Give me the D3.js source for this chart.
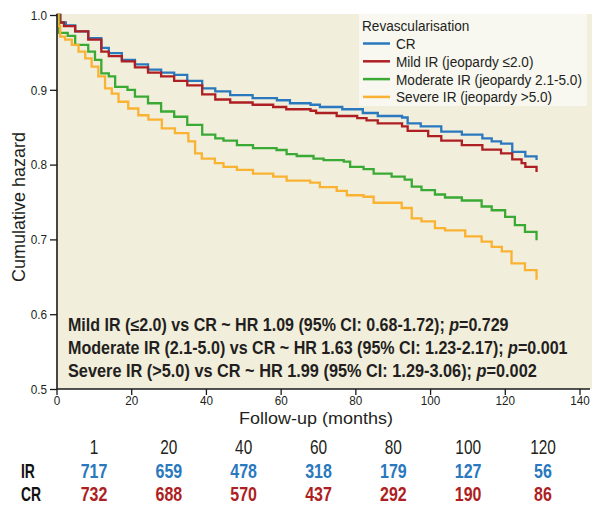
<!DOCTYPE html>
<html>
<head>
<meta charset="utf-8">
<script src="https://cdn.jsdelivr.net/npm/d3@7/dist/d3.min.js"></script>
<style>
  html, body { margin: 0; padding: 0; background: #ffffff; }
  svg { display: block; }
  text { font-family: "Liberation Sans", Arial, Helvetica, sans-serif; }
</style>
</head>
<body>
<svg id="chart" width="592" height="507"></svg>
<script>
// ---------- DATA ----------
const seriesNames = ["CR", "Mild IR (jeopardy \u22642.0)", "Moderate IR (jeopardy 2.1-5.0)", "Severe IR (jeopardy >5.0)"];
const seriesColors = ["#2a78bd", "#ad1f22", "#3aaa35", "#f9b232"];

// [months, cumulative value] step points
const crData = [[0,1],[1,0.99],[2.5,0.986],[5,0.978],[8.5,0.969],[12,0.956],[14,0.949],[17.5,0.940],[21,0.934],[24.5,0.927],[28,0.923],[31.5,0.920],[35,0.912],[39,0.902],[42.5,0.898],[46.5,0.893],[52.5,0.889],[59,0.886],[62.5,0.882],[68,0.880],[70.5,0.877],[76.5,0.874],[82,0.869],[86,0.865],[92.5,0.863],[94,0.855],[97.5,0.851],[103,0.844],[108.5,0.840],[114,0.835],[116.5,0.831],[119,0.828],[122,0.817],[125.5,0.811],[128.5,0.806]];
const mildData = [[0,1],[1,0.99],[2,0.985],[5,0.978],[8.5,0.967],[12,0.951],[14,0.945],[17.5,0.938],[21,0.930],[24.5,0.923],[28,0.918],[31.5,0.912],[35,0.906],[39,0.894],[42.5,0.887],[46.5,0.883],[52.5,0.880],[58,0.877],[61.5,0.874],[68,0.872],[69.5,0.869],[75,0.865],[80.5,0.862],[83,0.859],[86,0.855],[92.5,0.851],[94,0.845],[99.5,0.838],[103,0.832],[108.5,0.826],[114,0.820],[119,0.815],[122,0.807],[124.5,0.802],[125.5,0.797],[128.5,0.790]];
const moderateData = [[0,1],[0.7,0.976],[3,0.972],[5,0.960],[8.5,0.951],[10.3,0.940],[12,0.922],[14,0.918],[15.7,0.904],[19,0.900],[21,0.891],[24.5,0.882],[28,0.871],[31.5,0.864],[35,0.853],[39,0.840],[42.5,0.835],[44.7,0.832],[48.3,0.826],[52.6,0.822],[58.9,0.8195],[61.6,0.814],[64.3,0.8115],[68.8,0.808],[71.5,0.806],[76.9,0.804],[78.6,0.797],[82.2,0.794],[84.9,0.788],[89.7,0.784],[93.2,0.780],[95.1,0.7705],[97.7,0.766],[101.3,0.760],[104,0.756],[108.5,0.752],[113.8,0.744],[116.5,0.739],[120.1,0.730],[122.7,0.719],[125.4,0.710],[128.5,0.699]];
const severeData = [[0,1],[0.5,0.985],[1,0.971],[2.3,0.967],[4.1,0.960],[5.9,0.951],[7.7,0.942],[9.4,0.931],[11.2,0.918],[13,0.902],[14.8,0.895],[16.6,0.884],[19.2,0.875],[21.9,0.866],[24.6,0.860],[28.2,0.8485],[31.7,0.842],[35.3,0.831],[37.1,0.815],[38.9,0.808],[42.4,0.802],[44.7,0.797],[48.3,0.793],[52.6,0.788],[58,0.784],[61.6,0.7785],[67.9,0.776],[70.5,0.770],[75,0.765],[77.7,0.759],[82.2,0.757],[84.9,0.749],[92.4,0.742],[95.1,0.728],[97.7,0.724],[101.3,0.715],[104,0.712],[109.4,0.704],[113.8,0.697],[116.5,0.690],[119.2,0.684],[121.8,0.668],[125.4,0.659],[128.5,0.646]];

const xTicks = [0, 20, 40, 60, 80, 100, 120, 140];
const yTicks = [0.5, 0.6, 0.7, 0.8, 0.9, 1.0];

const hrLines = [
  ["Mild IR (\u22642.0) vs CR ~ HR 1.09 (95% CI: 0.68-1.72); ", "0.729"],
  ["Moderate IR (2.1-5.0) vs CR ~ HR 1.63 (95% CI: 1.23-2.17); ", "0.001"],
  ["Severe IR (>5.0) vs CR ~ HR 1.99 (95% CI: 1.29-3.06); ", "0.002"]
];

const riskTimes = ["1", "20", "40", "60", "80", "100", "120"];
const riskIR = [717, 659, 478, 318, 179, 127, 56];
const riskCR = [732, 688, 570, 437, 292, 190, 86];

// ---------- HELPERS ----------
// squeeze glyphs horizontally (scale transform) to imitate the condensed typeface of the original
function condense(sel, factor) {
  sel.each(function () {
    const el = d3.select(this);
    const tx = +el.attr("x") || 0, ty = +el.attr("y") || 0;
    const f = typeof factor === "function" ? factor(this) : factor;
    el.attr("x", 0).attr("y", 0)
      .attr("transform", `translate(${tx},${ty}) scale(${f},1)`);
  });
}

// ---------- DRAW ----------
const svg = d3.select("#chart");
const pLeft = 57, pTop = 14, pBottom = 389, pRight = 592;

const x = d3.scaleLinear().domain([0, 140]).range([56.5, 579.5]);
const y = d3.scaleLinear().domain([0.5, 1.0]).range([pBottom, 15]);

svg.append("rect").attr("x", pLeft).attr("y", pTop)
  .attr("width", pRight - pLeft).attr("height", pBottom - pTop)
  .attr("fill", "#f2eedc");

// curves
const line = d3.line().x(d => x(d[0])).y(d => y(d[1])).curve(d3.curveStepAfter);
const allData = [crData, mildData, moderateData, severeData];
allData.forEach((data, i) => {
  svg.append("path").datum(data).attr("d", line)
    .attr("fill", "none").attr("stroke", seriesColors[i])
    .attr("stroke-width", 2.3).attr("stroke-linejoin", "miter");
});

// axes
const yAxis = d3.axisLeft(y).tickValues(yTicks).tickFormat(d3.format(".1f")).tickSize(7).tickPadding(3);
const gy = svg.append("g").attr("transform", `translate(${pLeft},0)`).call(yAxis);
gy.attr("font-family", null);
gy.select(".domain").attr("d", `M0,${pTop}V${pBottom}`).attr("stroke", "#1a1a1a").attr("stroke-width", 1.6);
gy.selectAll(".tick line").attr("stroke", "#1a1a1a").attr("stroke-width", 1.3);
gy.selectAll(".tick text").attr("font-size", 13.5).attr("fill", "#231f20");
condense(gy.selectAll(".tick text"), 0.87);

const xAxis = d3.axisBottom(x).tickValues(xTicks).tickSize(6).tickPadding(1);
const gx = svg.append("g").attr("transform", `translate(0,${pBottom})`).call(xAxis);
gx.attr("font-family", null);
gx.select(".domain").attr("d", `M${pLeft},0H590`).attr("stroke", "#1a1a1a").attr("stroke-width", 1.6);
gx.selectAll(".tick line").attr("stroke", "#1a1a1a").attr("stroke-width", 1.3);
gx.selectAll(".tick text").attr("font-size", 13).attr("fill", "#231f20");
condense(gx.selectAll(".tick text"), 0.9);

// axis titles
const xTitle = svg.append("text").attr("x", 316).attr("y", 424)
  .attr("text-anchor", "middle").attr("font-size", 16.5).attr("fill", "#231f20")
  .text("Follow-up (months)");
condense(xTitle, 1.09);
svg.append("text")
  .attr("transform", "translate(25,207) rotate(-90)")
  .attr("text-anchor", "middle").attr("font-size", 18).attr("fill", "#231f20")
  .text("Cumulative hazard");

// legend
const lg = svg.append("g");
lg.append("rect").attr("x", 359).attr("y", 14).attr("width", 228).attr("height", 92).attr("fill", "#f8f7f0");
const legTitle = lg.append("text").attr("x", 362).attr("y", 31)
  .attr("font-size", 15.5).attr("fill", "#231f20").text("Revascularisation");
const legTexts = [];
seriesNames.forEach((name, i) => {
  const yy = 43.5 + i * 17.8;
  lg.append("line").attr("x1", 363).attr("x2", 390).attr("y1", yy).attr("y2", yy)
    .attr("stroke", seriesColors[i]).attr("stroke-width", 2.5);
  legTexts.push(lg.append("text").attr("x", 396).attr("y", yy + 5.5)
    .attr("font-size", 15.5).attr("fill", "#231f20").text(name));
});
// fit the longest legend entry to the width seen in the reference, same squeeze for all
const legFactor = 186 / legTexts[2].node().getComputedTextLength();
legTexts.forEach(t => condense(t, legFactor));
condense(legTitle, legFactor);

// HR annotations
const hrWidths = [441, 500, 469];
hrLines.forEach((l, i) => {
  const t = svg.append("text").attr("x", 68).attr("y", 331 + i * 23)
    .attr("font-size", 17.5).attr("font-weight", "bold").attr("fill", "#231f20");
  t.append("tspan").text(l[0]);
  t.append("tspan").attr("font-style", "italic").text("p");
  t.append("tspan").text("=" + l[1]);
  condense(t, el => hrWidths[i] / el.getComputedTextLength());
});

// risk table
const col = d3.scalePoint().domain(riskTimes).range([94, 543]);
const hdr = svg.selectAll(".rt").data(riskTimes).join("text")
  .attr("x", d => col(d)).attr("y", 454).attr("text-anchor", "middle")
  .attr("font-size", 19.5).attr("fill", "#231f20").text(d => d);
condense(hdr, 0.79);
const rir = svg.selectAll(".rir").data(riskIR).join("text")
  .attr("x", (d, i) => col(riskTimes[i])).attr("y", 478).attr("text-anchor", "middle")
  .attr("font-size", 20.5).attr("font-weight", "bold").attr("fill", "#2a78bd").text(d => d);
condense(rir, 0.78);
const rcr = svg.selectAll(".rcr").data(riskCR).join("text")
  .attr("x", (d, i) => col(riskTimes[i])).attr("y", 501).attr("text-anchor", "middle")
  .attr("font-size", 20.5).attr("font-weight", "bold").attr("fill", "#ad1f22").text(d => d);
condense(rcr, 0.78);
const rowIR = svg.append("text").attr("x", 21).attr("y", 478)
  .attr("font-size", 20.5).attr("font-weight", "bold").attr("fill", "#111").text("IR");
const rowCR = svg.append("text").attr("x", 21).attr("y", 501)
  .attr("font-size", 20.5).attr("font-weight", "bold").attr("fill", "#111").text("CR");
condense(rowIR, 0.68);
condense(rowCR, 0.68);
</script>
</body>
</html>
